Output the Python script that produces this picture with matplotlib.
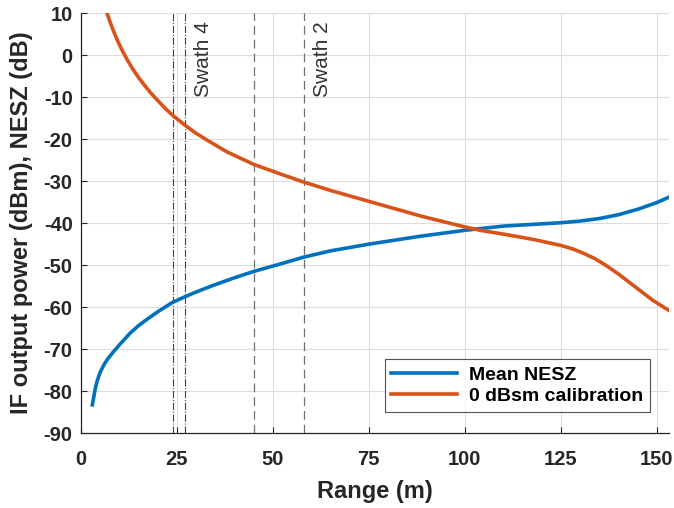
import matplotlib
matplotlib.use("Agg")
import matplotlib.pyplot as plt

plt.rcParams['font.family'] = ['Liberation Sans', 'DejaVu Sans']
plt.rcParams['axes.unicode_minus'] = False

# Mean NESZ (blue)
nesz_r = [2.95, 3.3, 3.7, 4.2, 5.0, 6.0, 7.0, 8.4, 10.0, 12.8, 15.0, 17.2, 20.0,
          23.8, 26.9, 30.0, 34.5, 40.0, 45.0, 52.0, 58.0, 65.0, 75.0, 88.5, 100.0,
          110.0, 125.0, 130.0, 135.0, 140.0, 145.0, 150.0, 153.2]
nesz_db = [-83.3, -81.5, -79.5, -77.6, -75.5, -73.7, -72.3, -70.7, -69.0, -66.2,
           -64.4, -62.9, -61.1, -58.9, -57.6, -56.4, -54.8, -53.0, -51.5, -49.7,
           -48.1, -46.6, -45.0, -43.1, -41.7, -40.7, -39.9, -39.5, -38.9, -38.0,
           -36.7, -35.1, -33.8]

# 0 dBsm calibration (orange)
cal_r = [6.8, 7.5, 8.5, 9.5, 10.6, 12.0, 13.5, 15.0, 16.5, 18.0, 20.0, 22.0, 24.0,
         27.0, 30.0, 33.0, 38.0, 45.0, 52.0, 58.0, 65.0, 75.0, 88.5, 100.0, 104.0,
         110.0, 118.0, 125.0, 128.0, 131.0, 134.0, 137.0, 140.0, 143.0, 146.0,
         149.0, 153.2]
cal_db = [10.0, 8.1, 5.7, 3.5, 1.4, -1.0, -3.3, -5.3, -7.1, -8.8, -10.8, -12.7,
          -14.4, -16.6, -18.6, -20.3, -23.0, -26.0, -28.3, -30.2, -32.2, -34.8,
          -38.3, -40.9, -41.7, -42.6, -43.9, -45.3, -46.1, -47.2, -48.5, -50.2,
          -52.1, -54.2, -56.3, -58.4, -60.8]

dashdot_x = [24, 27]
dashed_x = [45, 58]
swath_x = [32.0, 62.8]
swath_text = ["Swath 4", "Swath 2"]

xticks = [0, 25, 50, 75, 100, 125, 150]
yticks = list(range(-90, 11, 10))

fig = plt.figure(figsize=(6.74, 5.08), dpi=100)
ax = fig.add_axes([0.1202, 0.1476, 0.8724, 0.8262])

for xv in dashdot_x:
    ax.axvline(xv, color='#404040', lw=0.8, ls='-.', zorder=2)
for xv in dashed_x:
    ax.axvline(xv, color='#707070', lw=0.9, ls=(0, (7, 4)), zorder=2)
for xv, s in zip(swath_x, swath_text):
    ax.text(xv, 8.1, s, rotation=90, ha='center', va='top', fontsize=15, color='#333333')

ax.plot(nesz_r, nesz_db, color='#0072BD', lw=2.6, label='Mean NESZ', zorder=3)
ax.plot(cal_r, cal_db, color='#D95319', lw=2.6, label='0 dBsm calibration', zorder=3)

ax.set_xlim(0, 153.2)
ax.set_ylim(-90, 10)
ax.set_xticks(xticks)
ax.set_yticks(yticks)
ax.grid(True, color='#dcdcdc', lw=0.8)
ax.set_axisbelow(True)
ax.spines['top'].set_visible(False)
ax.spines['right'].set_visible(False)
for sp in ['left', 'bottom']:
    ax.spines[sp].set_color('#262626')
    ax.spines[sp].set_linewidth(0.9)
ax.tick_params(direction='in', length=4, width=0.8, colors='#262626', labelsize=14.5)
ax.tick_params(axis='x', pad=12)
ax.tick_params(axis='y', pad=6)
for lab in ax.get_xticklabels() + ax.get_yticklabels():
    lab.set_fontweight('bold')
ax.set_xlabel('Range (m)', fontsize=17, fontweight='bold', color='#262626', labelpad=8)
ax.set_ylabel('IF output power (dBm), NESZ (dB)', fontsize=17, fontweight='bold',
              color='#262626', labelpad=8)

leg = ax.legend(loc='lower right', bbox_to_anchor=(0.968, 0.05), fontsize=14,
                frameon=True, fancybox=False, handlelength=3.4, borderpad=0.35,
                labelspacing=0.2, handletextpad=0.6, borderaxespad=0)
leg.get_frame().set_edgecolor('#262626')
leg.get_frame().set_linewidth(0.8)
for t in leg.get_texts():
    t.set_fontweight('bold')

fig.savefig('out.png', dpi=100)
